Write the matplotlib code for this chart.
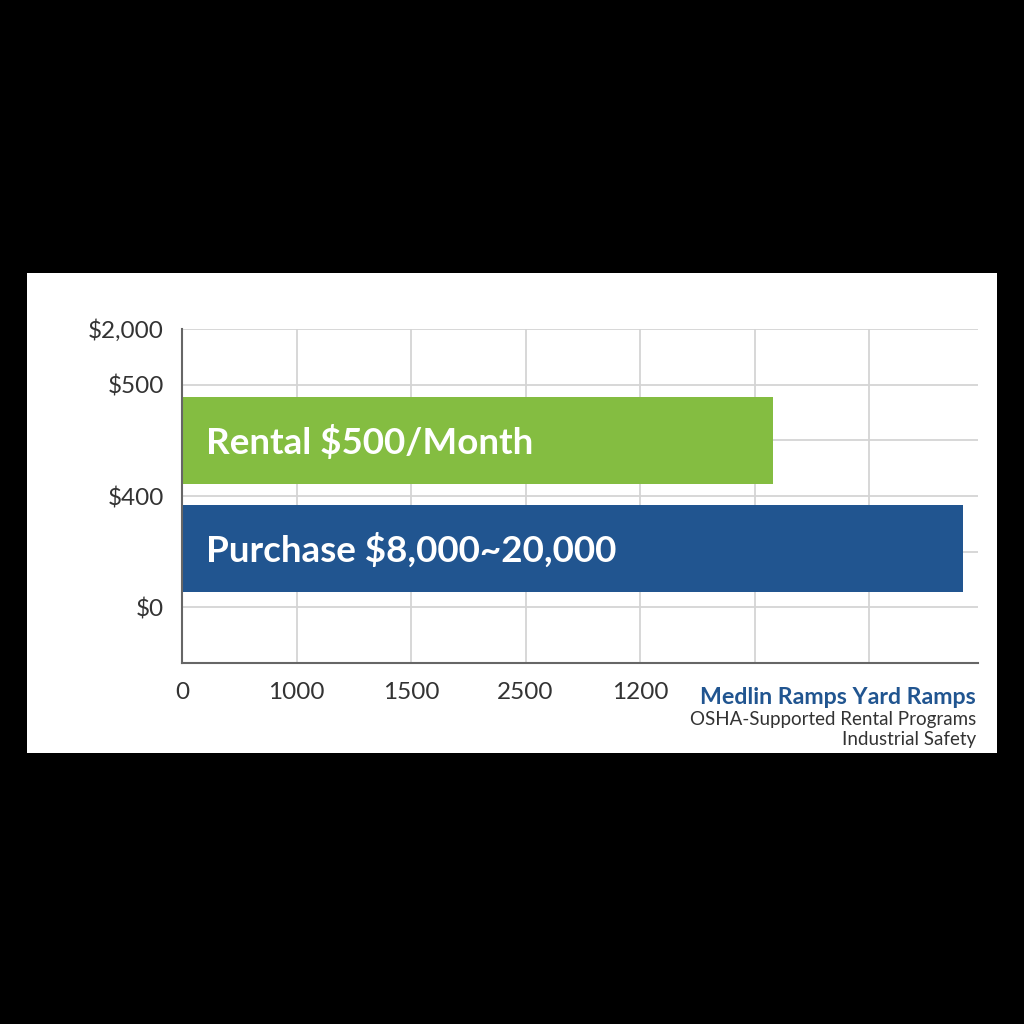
import matplotlib
matplotlib.use("Agg")
import matplotlib.pyplot as plt
from matplotlib.patches import Rectangle

plt.rcParams['font.family'] = ['Lato', 'DejaVu Sans']

# data (bar lengths in grid units)
bar_labels = ["Purchase $8,000~20,000", "Rental $500/Month"]
bar_values = [6.82, 5.16]
bar_pos = [2.06, 4.0]
bar_colors = ["#215590", "#84BD41"]

y_ticks = [0, 1, 2, 3, 4, 5, 6]
y_ticklabels = ["", "$0", "", "$400", "", "$500", "$2,000"]
x_ticks = [0, 1, 2, 3, 4, 5, 6]
x_ticklabels = ["0", "1000", "1500", "2500", "1200", "", ""]

W, H = 1024, 1024
fig = plt.figure(figsize=(W / 100, H / 100), dpi=100, facecolor="black")

# white card behind the chart
card = Rectangle((27 / W, 1 - 753 / H), 970 / W, 480 / H,
                 transform=fig.transFigure, facecolor="white",
                 edgecolor="none", zorder=-5)
fig.patches.append(card)

ax = fig.add_axes([182 / W, 1 - 663 / H, 796 / W, 334 / H])
ax.set_zorder(2)
ax.set_facecolor("none")

ax.barh(bar_pos, bar_values, height=1.57, color=bar_colors, zorder=3)
for y, lab in zip(bar_pos, bar_labels):
    ax.text(0.21, y - 0.03, lab, color="white", fontsize=26.5, fontweight="bold",
            va="center", ha="left", zorder=4)

ax.set_xlim(0, 6.95)
ax.set_ylim(0, 6)
ax.set_xticks(x_ticks)
ax.set_xticklabels(x_ticklabels)
ax.set_yticks(y_ticks)
ax.set_yticklabels(y_ticklabels)
ax.tick_params(length=0, labelsize=17.5, colors="#333333")
ax.tick_params(axis="x", pad=14)
ax.tick_params(axis="y", pad=13)
ax.grid(True, color="#d4d4d4", linewidth=1.3, zorder=1)
ax.set_axisbelow(True)
for s in ["top", "right"]:
    ax.spines[s].set_visible(False)
for s in ["left", "bottom"]:
    ax.spines[s].set_color("#666666")
    ax.spines[s].set_linewidth(1.5)
    ax.spines[s].set_zorder(5)

# footer text
fig.text(976 / W, 1 - 698 / H, "Medlin Ramps Yard Ramps", color="#215590",
         fontsize=16.7, fontweight="bold", ha="right", va="center")
fig.text(976 / W, 1 - 720 / H, "OSHA-Supported Rental Programs", color="#333333",
         fontsize=13.5, ha="right", va="center")
fig.text(976 / W, 1 - 739 / H, "Industrial Safety", color="#333333",
         fontsize=13.5, ha="right", va="center")

fig.savefig("out.png", dpi=100, facecolor="black")
